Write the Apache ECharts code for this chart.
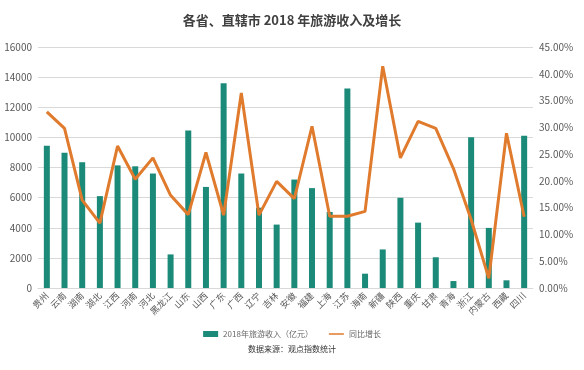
<!DOCTYPE html>
<html><head><meta charset="utf-8">
<script src="https://cdn.jsdelivr.net/npm/echarts@6/dist/echarts.min.js"></script>
<style>html,body{margin:0;padding:0;background:#fff}#c{width:584px;height:370px}</style>
</head><body><div id="c"></div>
<script>
var categories = ['贵州','云南','湖南','湖北','江西','河南','河北','黑龙江','山东','山西','广东','广西','辽宁','吉林','安徽','福建','上海','江苏','海南','新疆','陕西','重庆','甘肃','青海','浙江','内蒙古','西藏','四川'];
var revenue = [9450,8980,8350,6100,8140,8080,7600,2230,10460,6710,13600,7600,5330,4210,7200,6630,5050,13250,950,2560,5990,4340,2040,460,10010,3990,510,10100];
var growth = [32.9,29.8,16.4,12.1,26.5,20.3,24.3,17.3,13.7,25.3,13.6,36.4,13.6,19.9,16.7,30.2,13.4,13.4,14.3,41.4,24.3,31.1,29.8,22.3,12.8,1.8,28.9,13.3];
var leftTicks = {min:0, max:16000, interval:2000};
var rightTicks = {min:0, max:45, interval:5};

var chart = echarts.init(document.getElementById('c'));
var font = "'Noto Sans CJK SC','Noto Sans',sans-serif";
chart.setOption({
  backgroundColor:'#fff',
  animation:false,
  title:{text:'各省、直辖市 2018 年旅游收入及增长', left:'center', top:9,
    textStyle:{fontSize:13, fontWeight:'bold', color:'#404040', fontFamily:font}},
  legend:{top:325, left:'center', itemWidth:15, itemHeight:6, itemGap:16,
    textStyle:{fontSize:8, color:'#666', fontFamily:font},
    data:[{name:'2018年旅游收入（亿元）', icon:'rect'},
          {name:'同比增长', icon:'path://M0,0L0.01,0L0.01,0.01L0,0.01ZM0,2.3L15,2.3L15,3.7L0,3.7ZM0,5.99L0.01,5.99L0.01,6L0,6Z'}]},
  graphic:[{type:'text', left:'center', top:345, style:{text:'数据来源：观点指数统计', fontSize:8, fill:'#333', fontFamily:font}}],
  grid:{left:38, right:51, top:47, bottom:82},
  xAxis:{type:'category', data:categories,
    axisLine:{lineStyle:{color:'#d9d9d9'}}, axisTick:{show:false},
    axisLabel:{rotate:45, interval:0, fontSize:9, color:'#595959', fontFamily:font, margin:6}},
  yAxis:[
    {type:'value', min:leftTicks.min, max:leftTicks.max, interval:leftTicks.interval,
     axisLine:{show:false}, axisTick:{show:false},
     splitLine:{lineStyle:{color:'#d9d9d9'}},
     axisLabel:{fontSize:10, color:'#595959', fontFamily:font, margin:6,
       formatter:function(v){return String(v);}}},
    {type:'value', min:rightTicks.min, max:rightTicks.max, interval:rightTicks.interval,
     axisLine:{show:false}, axisTick:{show:false}, splitLine:{show:false},
     axisLabel:{fontSize:10, color:'#595959', fontFamily:font, margin:6,
       formatter:function(v){return v.toFixed(2)+'%';}}}
  ],
  series:[
    {name:'2018年旅游收入（亿元）', type:'bar', data:revenue, barWidth:6,
     itemStyle:{color:'#1b8a78'}},
    {name:'同比增长', type:'line', yAxisIndex:1, data:growth, symbol:'none',
     lineStyle:{color:'#e07b2d', width:3}, itemStyle:{color:'#e07b2d'}}
  ]
});
</script></body></html>
